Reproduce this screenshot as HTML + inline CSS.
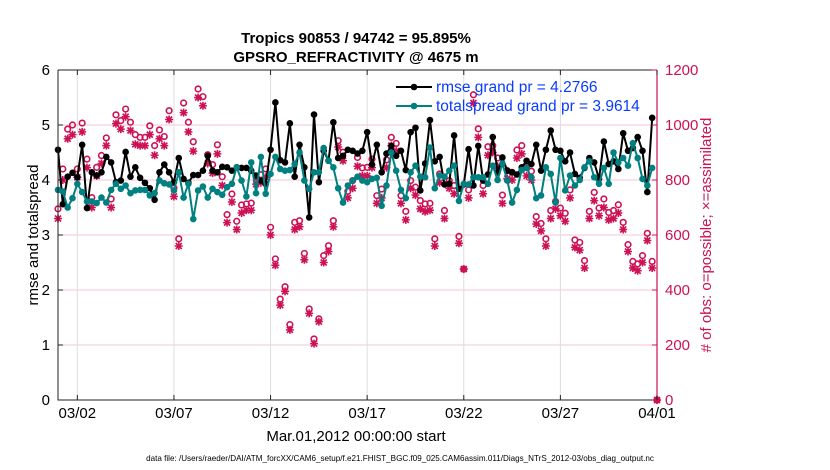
<!DOCTYPE html>
<html><head><meta charset="utf-8">
<style>
html,body{margin:0;padding:0;background:#fff;}
svg{display:block;font-family:"Liberation Sans",Arial,sans-serif;}
</style></head>
<body>
<svg id="chart" width="830" height="470" viewBox="0 0 830 470" xmlns="http://www.w3.org/2000/svg">
<text x="356" y="43" text-anchor="middle" font-size="15" font-weight="bold">Tropics 90853 / 94742 = 95.895%</text>
<text x="356" y="62" text-anchor="middle" font-size="15" font-weight="bold">GPSRO_REFRACTIVITY @ 4675 m</text>
<g id="grid"></g>
<g id="series"></g>
<g id="axes"></g>
<g id="legend"></g>
<text transform="translate(38,235) rotate(-90)" text-anchor="middle" font-size="15">rmse and totalspread</text>
<text transform="translate(711,235) rotate(-90)" text-anchor="middle" font-size="15" fill="#cc1155"># of obs: o=possible; ×=assimilated</text>
<text x="356" y="441" text-anchor="middle" font-size="15">Mar.01,2012 00:00:00 start</text>
<text x="400" y="461" text-anchor="middle" font-size="8.1">data file: /Users/raeder/DAI/ATM_forcXX/CAM6_setup/f.e21.FHIST_BGC.f09_025.CAM6assim.011/Diags_NTrS_2012-03/obs_diag_output.nc</text>
</svg>
<script>
const leftTicks = [0,1,2,3,4,5,6];
const rightTicks = [0,200,400,600,800,1000,1200];
const xTickDays = [1,6,11,16,21,26,31];
const xTickLabels = ["03/02","03/07","03/12","03/17","03/22","03/27","04/01"];
const rmse = [4.55,3.56,4.06,4.13,4.05,4.64,3.49,4.14,4.08,4.14,4.42,4.32,3.96,3.99,4.51,4.06,4.23,4.04,3.95,3.85,3.64,4.14,4.28,4.14,3.96,4.4,4.02,3.95,4.09,4.09,4.17,4.44,
4.17,4.14,4.24,4.23,4.17,4.23,4.22,4.22,4.17,4.08,3.99,3.93,4.55,5.41,4.36,4.32,5.03,4.06,4.64,4.23,3.32,5.19,3.96,4.53,4.35,5.05,4.4,4.44,4.55,4.53,4.48,
4.53,4.87,4.28,4.64,4.14,4.48,4.62,4.44,4.53,4.18,4.87,4.95,3.81,4.3,5.09,4.34,4.42,3.92,3.93,4.81,3.84,3.92,4.56,3.9,4.62,3.99,4.1,4.78,4.14,4.41,4.17,
4.14,4.1,4.23,4.35,4.29,4.64,4.17,4.55,4.9,4.55,4.53,4.34,4.5,4.11,4.04,4.22,4.4,4.32,4.02,4.7,4.29,4.34,4.2,4.85,4.53,4.58,4.78,4.53,3.78,5.13,null];
const spread = [3.82,3.79,3.5,3.67,3.93,3.78,3.61,3.61,3.58,3.68,3.59,3.82,3.93,3.84,3.9,3.76,3.81,3.82,3.82,3.72,3.76,3.99,3.94,3.92,3.81,4.14,3.68,3.93,3.29,3.81,3.88,3.68,
3.84,3.78,3.73,3.87,3.93,4.23,3.99,3.7,4.32,3.76,4.42,3.75,4.11,4.42,4.2,4.17,4.18,4.29,4.5,3.99,3.84,4.14,4.14,4.58,4.35,4.23,3.85,3.59,3.9,3.99,4.06,
3.99,3.96,4.02,4.04,3.53,3.9,4.5,4.17,3.82,3.67,4.14,4.26,4.06,4.05,4.59,3.85,4.08,4.06,4.17,4.26,3.62,3.93,3.92,4.05,4.05,4.05,3.93,4.26,4.0,4.3,3.99,
3.59,3.82,4.18,4.22,4.05,3.67,3.72,4.23,4.11,3.59,4.4,3.81,4.08,3.9,4.0,4.23,4.34,4.05,3.93,4.22,3.93,4.5,4.32,4.4,4.26,4.67,4.4,4.02,3.9,4.22,null];
const possible = [695,840,985,1000,840,1007,876,736,846,889,953,731,1037,1016,1058,1010,965,955,955,997,925,982,958,1052,771,586,1080,1010,939,1131,1103,892,
856,928,812,674,749,650,709,713,716,812,819,840,628,513,367,412,274,646,652,533,331,222,295,525,561,652,943,901,759,798,882,
844,846,876,743,767,873,955,933,743,686,798,774,725,713,715,586,822,689,798,780,595,476,764,1110,986,780,921,925,880,745,834,
828,909,925,846,832,667,642,586,689,722,698,679,764,582,573,507,686,755,698,731,682,689,710,646,565,504,495,525,606,504,0];
const assimilated = [660,800,950,965,810,975,845,700,815,860,925,700,1005,985,1030,980,930,925,925,965,890,950,925,1020,740,560,1045,975,905,1100,1070,860,
825,895,780,645,720,620,680,690,690,785,790,810,600,490,345,395,255,620,630,510,315,205,285,500,540,630,920,870,735,770,850,
815,815,845,715,735,845,925,905,715,655,770,745,695,685,690,560,790,660,770,750,570,476,735,1080,955,750,890,900,850,715,805,
800,880,895,815,800,640,615,560,660,695,670,650,735,555,545,480,660,725,670,700,655,660,680,620,540,480,470,500,580,480,0];
const legendLabels = ["rmse grand pr = 4.2766","totalspread grand pr = 3.9614"];

const NS="http://www.w3.org/2000/svg";
const X0=58,X1=657,Y0=400,Y1=70;
const DAYS=31, STEP=0.25;
const RED="#cc1155", TEAL="#008080";
function xs(d){return X0+(X1-X0)*d/DAYS;}
function yl(v){return Y0-(Y0-Y1)*v/6;}
function yr(n){return Y0-(Y0-Y1)*n/1200;}
function mk(tag,attrs,parent){const e=document.createElementNS(NS,tag);for(const k in attrs)e.setAttribute(k,attrs[k]);parent.appendChild(e);return e;}
const grid=document.getElementById('grid'),ser=document.getElementById('series'),axes=document.getElementById('axes'),leg=document.getElementById('legend');

leftTicks.forEach(v=>{ if(v>0&&v<6){const l=mk('line',{x1:X0,x2:X1,y1:yl(v),y2:yl(v),stroke:"#f3c6d6","stroke-width":1},grid);

}});
xTickDays.forEach(d=>{ if(d<DAYS){const l=mk('line',{x1:xs(d),x2:xs(d),y1:Y0,y2:Y1,stroke:"#dddddd","stroke-width":1},grid);

}});

possible.forEach((n,i)=>{ if(n==null)return; const c=mk('circle',{cx:xs(i*STEP),cy:yr(n),r:2.8,fill:"none",stroke:RED,"stroke-width":1.6},ser);

});
assimilated.forEach((n,i)=>{ if(n==null)return; const x=xs(i*STEP),y=yr(n),s=4,g=mk('path',{d:`M${x-s} ${y}H${x+s}M${x} ${y-s}V${y+s}M${x-3} ${y-3}L${x+3} ${y+3}M${x-3} ${y+3}L${x+3} ${y-3}`,stroke:RED,"stroke-width":1.6,fill:"none"},ser);

});

function lineSeries(arr,color,name){
  let d="";arr.forEach((v,i)=>{if(v==null)return;d+=(d?"L":"M")+xs(i*STEP).toFixed(1)+" "+yl(v).toFixed(1);});
  const p=mk('path',{d:d,stroke:color,"stroke-width":2,fill:"none"},ser);
  
  
  arr.forEach((v,i)=>{if(v==null)return;const c=mk('circle',{cx:xs(i*STEP),cy:yl(v),r:3.3,fill:color},ser);
  
  });
}
lineSeries(rmse,"#000000","rmse");
lineSeries(spread,TEAL,"totalspread");

let a=mk('path',{d:`M${X0} ${Y1}V${Y0}H${X1}`,stroke:"#222",fill:"none","stroke-width":1},axes);


a=mk('line',{x1:X0,x2:X1,y1:Y1,y2:Y1,stroke:"#222","stroke-width":1},axes);


a=mk('line',{x1:X1,x2:X1,y1:Y1,y2:Y0,stroke:RED,"stroke-width":1.2},axes);


leftTicks.forEach(v=>{const y=yl(v);
  const t=mk('line',{x1:X0,x2:X0+5,y1:y,y2:y,stroke:"#222"},axes);
  
  
  const tx=mk('text',{x:X0-8,y:y+5,"text-anchor":"end","font-size":15},axes);tx.textContent=v;
  
  });
rightTicks.forEach(n=>{const y=yr(n);
  const t=mk('line',{x1:X1-5,x2:X1,y1:y,y2:y,stroke:RED},axes);
  
  
  const tx=mk('text',{x:X1+8,y:y+5,"font-size":15,fill:RED},axes);tx.textContent=n;
  
  });
xTickDays.forEach((d,i)=>{const x=xs(d);
  const t=mk('line',{x1:x,x2:x,y1:Y0,y2:Y0-5,stroke:"#222"},axes);
  
  
  const t2=mk('line',{x1:x,x2:x,y1:Y1,y2:Y1+5,stroke:"#222"},axes);
  
  
  const tx=mk('text',{x:x,y:Y0+18,"text-anchor":"middle","font-size":15},axes);tx.textContent=xTickLabels[i];
  
  });

[["#000000",92],[TEAL,111]].forEach((s,i)=>{
  const l=mk('line',{x1:396,x2:432,y1:s[1]-5,y2:s[1]-5,stroke:s[0],"stroke-width":2},leg);
  
  
  const c=mk('circle',{cx:414,cy:s[1]-5,r:3.3,fill:s[0]},leg);
  
  
  const t=mk('text',{x:436,y:s[1],"font-size":15.5,fill:"#0a3cff"},leg);t.textContent=legendLabels[i];
  
  });
</script>
</body></html>
